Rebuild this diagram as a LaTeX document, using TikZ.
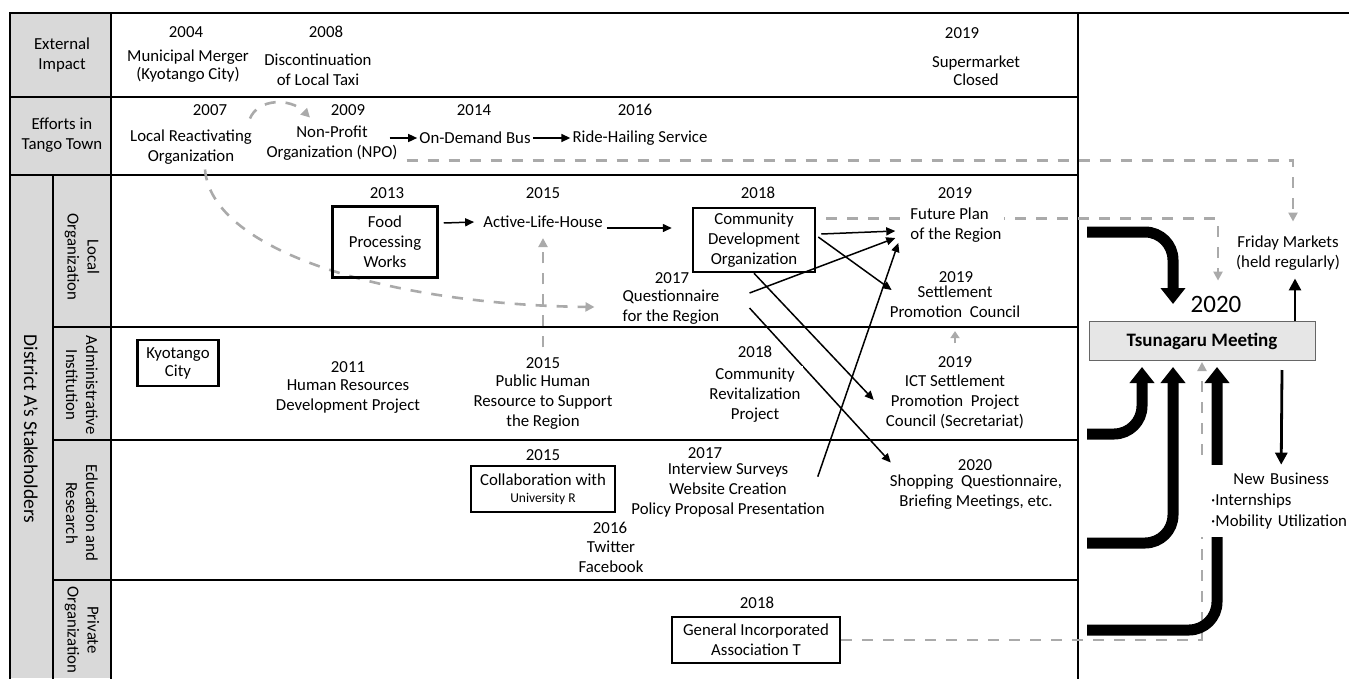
\documentclass[tikz,border=0pt]{standalone}
\usepackage{fontspec}
\setmainfont{Carlito}
\usetikzlibrary{arrows.meta, backgrounds}
\definecolor{CellGray}{RGB}{217,217,217}
\definecolor{LineGray}{RGB}{170,170,170}
\definecolor{MeetGray}{RGB}{230,230,230}

\begin{document}
\begin{tikzpicture}[
  x=1pt, y=-1pt,
  every node/.style={font=\fontsize{16.8}{20}\selectfont, inner sep=2pt},
  txt/.style={align=center},
  lbl/.style={align=center, rotate=-90},
  orgbox/.style={draw, line width=2.5pt, align=center, inner sep=1pt},
  meetbox/.style={draw=black!60, fill=MeetGray, line width=1pt,
                  minimum width=226pt, minimum height=39pt,
                  font=\fontsize{19}{20}\selectfont\bfseries},
  gridline/.style={line width=2.6pt, line cap=rect},
  arr/.style={-{Triangle[length=9pt,width=8pt]}, line width=1.5pt},
  barr/.style={-{Triangle[length=12pt,width=12pt]}, line width=2.8pt},
  fat/.style={-{Triangle[length=16pt,width=24pt]}, line width=11pt, rounded corners=28pt},
  gdash/.style={draw=LineGray, line width=2.6pt, dash pattern=on 11pt off 10pt,
                -{Triangle[length=9pt,width=9pt]}},
  garr/.style={draw=LineGray, line width=2.6pt, -{Triangle[length=7pt,width=9pt]}}
]
  \useasboundingbox (0,0) rectangle (1349,678);

  %% Row labels
  \node[txt] (ext) at (62,55)  {External\\Impact};
  \node[txt] (eff) at (62,135) {Efforts in\\Tango Town};
  \node[lbl, font=\fontsize{19.5}{20}\selectfont] (dist) at (31,429) {District A’s Stakeholders};
  \node[lbl] (loc) at (82,257) {Local\\Organization};
  \node[lbl] (adm) at (82,385) {Administrative\\Institution};
  \node[lbl] (edu) at (82,513) {Education and\\Research};
  \node[lbl] (prv) at (82,630) {Private\\Organization};

  %% External impact
  \node[txt] (y04)    at (186,32) {2004};
  \node[txt] (merger) at (188,66) {Municipal Merger\\[-2pt](Kyotango City)};
  \node[txt] (y08)    at (326,32) {2008};
  \node[txt] (taxi)   at (318,70) {Discontinuation\\of Local Taxi};
  \node[txt] (y19s)   at (962,33) {2019};
  \node[txt] (smkt)   at (976,71) {Supermarket\\[-2pt]Closed};

  %% Efforts in Tango Town
  \node[txt] (y07) at (210,110) {2007};
  \node[txt] (lro) at (191,147) {Local Reactivating\\Organization};
  \node[txt] (y09) at (348,110) {2009};
  \node[txt] (npo) at (332,143) {Non-Profit\\Organization (NPO)};
  \node[txt] (y14) at (474,110) {2014};
  \node[txt] (odb) at (475,138) {On-Demand Bus};
  \node[txt] (y16) at (635,110) {2016};
  \node[txt] (rhs) at (640,138) {Ride-Hailing Service};

  %% Local organization
  \node[txt] (y13) at (387,193) {2013};
  \node[orgbox, minimum width=105pt, minimum height=71pt] (fpw) at (385,242) {Food\\Processing\\Works};
  \node[txt] (y15l) at (543,193) {2015};
  \node[txt] (alh)  at (543,222) {Active-Life-House};
  \node[txt] (y18l) at (758,193) {2018};
  \node[orgbox, minimum width=122pt, minimum height=64pt] (cdo) at (754,240) {Community\\Development\\Organization};
  \node[txt] (y17q)  at (672,278) {2017};
  \node[txt] (quest) at (671,307) {Questionnaire\\for the Region};
  \node[txt] (y19f)  at (955,193) {2019};
  \node[align=left, fill=white] (fut) at (956,225) {Future Plan\\of the Region};
  \node[txt] (y19p)  at (956,277) {2019};
  \node[txt] (setl)  at (955,302) {Settlement\\Promotion~ Council};

  %% Administrative institution
  \node[orgbox, minimum width=81pt, minimum height=46pt] (kyo) at (178,363) {Kyotango\\[-2pt]City};
  \node[txt] (y11)  at (348,367) {2011};
  \node[txt] (hrd)  at (348,397) {Human Resources\\Development Project};
  \node[txt] (y15a) at (543,363) {2015};
  \node[txt] (phr)  at (543,402) {Public Human\\Resource to Support\\the Region};
  \node[txt] (y18a) at (755,352) {2018};
  \node[txt, fill=white] (crp) at (755,395) {Community\\Revitalization\\Project};
  \node[txt] (y19i) at (955,362) {2019};
  \node[txt] (ict)  at (955,402) {ICT Settlement\\Promotion~ Project\\Council (Secretariat)};

  %% Education and research
  \node[txt] (y15e) at (543,455) {2015};
  \node[orgbox, minimum width=144pt, minimum height=46pt] (collab) at (543,489)
       {Collaboration with\\[-3pt]{\fontsize{13.5}{16}\selectfont University R}};
  \node[txt] (y16e) at (610,528) {2016};
  \node[txt] (sns)  at (611,557) {Twitter\\Facebook};
  \node[txt] (y17e) at (705,453) {2017};
  \node[txt] (intv) at (728,490) {Interview Surveys\\Website Creation\\Policy Proposal Presentation};
  \node[txt] (y20e) at (975,465) {2020};
  \node[txt] (shop) at (976,492) {Shopping~ Questionnaire,\\Briefing Meetings, etc.};

  %% Private organization
  \node[txt] (y18p) at (757,603) {2018};
  \node[orgbox, minimum width=168pt, minimum height=46pt] (gia) at (756,640) {General Incorporated\\Association T};

  %% Right side
  \node[meetbox] (tm) at (1202,341) {Tsunagaru Meeting};
  \node[txt, font=\fontsize{25}{30}\selectfont] (y20t) at (1216,304) {2020};
  \node[txt] (fm) at (1288,253) {Friday Markets\\(held regularly)};
  \node[align=left, text width=140pt, fill=white, inner xsep=12pt, inner ysep=8pt, anchor=west] (nb) at (1199,501)
       {\makebox[140pt]{New Business}\\[1pt]·Internships\\[1pt]·Mobility~Utilization};

  %% Arrows - efforts row
  \draw[arr] ([xshift=-10pt,yshift=5pt]npo.east) -- (odb.west);
  \draw[arr] (odb.east) -- (rhs.west);

  %% Arrows - local organization
  \draw[arr] ([xshift=5pt,yshift=19pt]fpw.east) -- ([xshift=-7pt]alh.west);
  \draw[arr] ([xshift=2pt,yshift=-6pt]alh.east) -- ([xshift=-20pt,yshift=12pt]cdo.west);
  \draw[arr] ([xshift=5pt,yshift=6pt]cdo.east) -- ([xshift=-13pt,yshift=-6pt]fut.west);
  \draw[arr] ([xshift=2pt,yshift=3pt]cdo.east) -- ([xshift=4pt,yshift=12pt]setl.west);
  \draw[arr] ([xshift=28pt,yshift=14pt]quest.east) -- ([xshift=-13pt,yshift=-13pt]fut.west);
  \draw[arr] (cdo.south) -- ([xshift=-10pt,yshift=2pt]ict.west);
  \draw[arr] ([xshift=-9pt,yshift=-16pt]intv.north east) -- ([xshift=-10pt,yshift=-18pt]fut.west);
  \draw[garr, shorten <=11pt, shorten >=11pt] (y19i) -- (setl);

  %% Arrows - meeting
  \draw[barr] ([xshift=93pt]tm.north) -- ([xshift=7pt,yshift=-6pt]fm.south);
  \draw[barr] ([xshift=80pt,yshift=-9pt]tm.south) -- (nb.north);

  \coordinate (lo-out) at (1087,232);
  \coordinate (ad-out) at (1087,434);
  \coordinate (ed-out) at (1087,543);
  \coordinate (pr-out) at (1087,630);

  \begin{scope}[on background layer]
    %% Frame and grid
    \fill[CellGray] (10,13) rectangle (111,678);
    \draw[gridline] (10,678) -- (10,13) -- (1349,13);
    \draw[gridline] (111,13) -- (111,678);
    \draw[gridline] (53,175) -- (53,678);
    \draw[gridline] (1078,13) -- (1078,678);
    \draw[gridline] (10,97) -- (1078,97);
    \draw[gridline] (10,175) -- (1078,175);
    \foreach \yy in {327,440,580}
      \draw[gridline] (53,\yy) -- (1078,\yy);

    %% Dashed links
    \draw[gdash] ([xshift=-4pt,yshift=9pt]lro.north east) .. controls +(8,-20) and +(-20,-20) .. ([xshift=-22pt,yshift=6pt]npo.north);
    \draw[gdash] ([xshift=14pt,yshift=-3pt]lro.south) .. controls +(7,85) and +(-195,-2) .. ([xshift=-26pt]quest.west);
    \draw[gdash] ([yshift=8pt]y15a.north) -- ([yshift=-8pt]alh.south);
    \draw[gdash] ([xshift=10pt,yshift=-12pt]cdo.north east) -| ([xshift=2pt,yshift=13pt]y20t.north);
    \draw[gdash] ([xshift=7pt,yshift=2pt]npo.south east) -| ([xshift=5pt,yshift=12pt]fm.north);
    \draw[gdash] (gia.east) -| ([yshift=-1pt]tm.south);

    %% Crossing arrow behind the project text
    \draw[arr] ([xshift=28pt,yshift=-1pt]quest.east) -- ([xshift=3pt,yshift=10pt]shop.north west);

    %% Thick arrows into the meeting
    \draw[fat] (lo-out) -| ([xshift=-29pt,yshift=17pt]tm.north);
    \draw[fat] (ad-out) -| ([xshift=-60pt,yshift=-6pt]tm.south);
    \draw[fat] (ed-out) -| ([xshift=-29pt,yshift=-6pt]tm.south);
    \draw[fat] (pr-out) -| ([xshift=15pt,yshift=-6pt]tm.south);
  \end{scope}
\end{tikzpicture}
\end{document}
